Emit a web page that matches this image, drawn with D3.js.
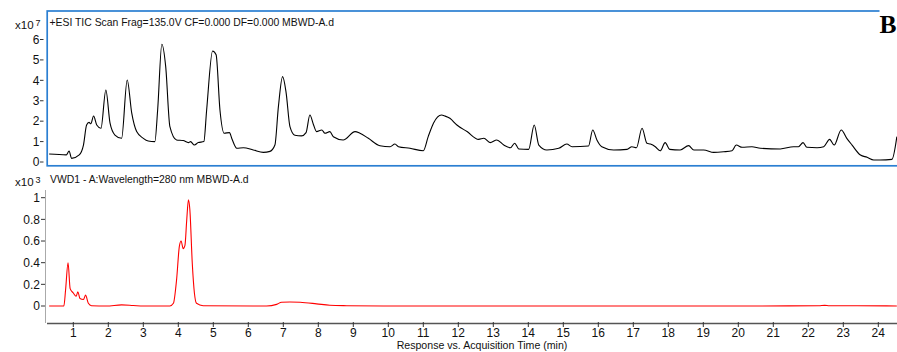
<!DOCTYPE html>
<html><head><meta charset="utf-8">
<script src="https://cdn.jsdelivr.net/npm/d3@7"></script>
<style>
body{margin:0;background:#fff;}
svg{display:block;font-family:Arial,"Liberation Sans",sans-serif;}
</style></head>
<body>
<svg id="chart" width="897" height="352"></svg>
<script>
// ---- Data ----
const xTicks = [1,2,3,4,5,6,7,8,9,10,11,12,13,14,15,16,17,18,19,20,21,22,23,24];
const ticTicks = [0,1,2,3,4,5,6];
const uvTicks = [0,0.2,0.4,0.6,0.8,1];
const ticTitle = "+ESI TIC Scan Frag=135.0V CF=0.000 DF=0.000 MBWD-A.d";
const uvTitle = "VWD1 - A:Wavelength=280 nm MBWD-A.d";
const xTitle = "Response vs. Acquisition Time (min)";
const panelLabel = "B";

// TIC (x10^7) : time (min), value
const ticTime = [0.31,0.8,0.88,0.95,1.17,1.29,1.38,1.45,1.5,1.58,1.67,1.79,1.93,2.05,2.19,2.38,2.54,2.67,2.81,3.0,3.14,3.33,3.41,3.53,3.64,3.76,3.95,4.14,4.29,4.35,4.46,4.57,4.73,4.81,4.98,5.08,5.19,5.31,5.46,5.54,5.67,5.86,6.14,6.43,6.62,6.76,6.86,6.98,7.08,7.19,7.33,7.52,7.65,7.76,7.86,7.95,8.1,8.19,8.33,8.43,8.71,9.05,9.19,9.43,9.76,10.05,10.19,10.29,10.62,11.0,11.14,11.29,11.52,11.62,11.76,11.96,12.25,12.58,12.73,12.91,13.1,13.3,13.49,13.61,13.73,14.01,14.17,14.3,14.53,14.87,15.1,15.25,15.72,15.84,15.96,16.1,16.44,16.82,16.96,17.09,17.25,17.39,17.49,17.63,17.77,17.91,18.04,18.34,18.58,18.73,19.01,19.3,19.58,19.82,19.94,20.11,20.39,20.63,21.2,21.58,21.72,21.85,21.96,22.25,22.44,22.61,22.74,22.94,23.1,23.25,23.49,23.68,23.87,24.05,24.39,24.53];
const ticValue = [0.39,0.35,0.54,0.18,0.35,0.83,1.81,1.94,1.87,2.25,1.81,1.65,3.53,1.9,1.32,1.16,4.02,2.39,1.49,1.16,1.03,1.0,2.55,5.77,4.67,1.73,1.08,1.05,0.95,1.0,0.83,0.95,1.0,2.55,5.44,5.25,2.55,1.41,1.44,1.1,0.67,0.7,0.59,0.47,0.52,0.83,2.71,4.18,3.4,1.73,1.31,1.28,1.44,2.3,1.84,1.49,1.57,1.41,1.49,1.24,1.08,1.49,1.41,1.16,0.8,0.75,0.88,0.75,0.67,0.55,1.24,1.9,2.3,2.25,2.14,1.81,1.49,1.11,1.16,0.95,1.08,0.83,0.7,0.92,0.64,0.62,1.81,0.83,0.59,0.67,0.88,0.75,0.78,1.57,1.08,0.75,0.59,0.62,0.75,0.7,1.65,0.92,0.88,0.75,0.55,0.95,0.62,0.59,0.8,0.59,0.59,0.47,0.5,0.55,0.83,0.72,0.75,0.67,0.64,0.75,0.75,0.95,0.72,0.7,0.75,1.11,0.83,1.57,1.16,0.83,0.34,0.23,0.1,0.1,0.13,1.24];

// UV 280 nm (x10^3)
const uvTime = [0.31,0.73,0.78,0.85,0.91,1.0,1.08,1.13,1.19,1.29,1.35,1.43,1.52,1.95,2.38,2.71,3.0,3.76,3.86,3.95,4.03,4.08,4.14,4.19,4.24,4.29,4.33,4.4,4.46,4.52,4.71,6.14,6.52,6.81,6.95,7.19,7.48,7.95,8.33,8.81,9.86,15.0,20.0,22.3,22.47,22.6,23.4,24.53];
const uvValue = [0,0,0.15,0.40,0.16,0.12,0.09,0.13,0.07,0.06,0.10,0.025,0.003,0,0.01,0.005,0,0,0.025,0.24,0.55,0.60,0.53,0.56,0.79,0.98,0.89,0.39,0.12,0.025,0.003,0,0,0.015,0.035,0.037,0.034,0.02,0.007,0.003,0,0,0,0.002,0.006,0.002,0.003,0];

// ---- Layout ----
const svg = d3.select("#chart");
const x = d3.scaleLinear().domain([0, 24]).range([38.3, 878.3]);
const yTic = d3.scaleLinear().domain([0, 6]).range([162, 39.5]);
const yUv = d3.scaleLinear().domain([0, 1]).range([306, 197.7]);
const fontTick = 12;

// Top panel box (blue frame)
svg.append("defs").append("clipPath").attr("id","clipTop")
  .append("rect").attr("x",47).attr("y",11).attr("width",860).attr("height",155);

const ticLine = d3.line().x((d,i)=>x(ticTime[i])).y(d=>yTic(d)).curve(d3.curveMonotoneX);
svg.append("path").datum(ticValue).attr("d", ticLine)
  .attr("fill","none").attr("stroke","#000").attr("stroke-width",1.1)
  .attr("clip-path","url(#clipTop)");

svg.append("rect").attr("x",47.2).attr("y",11).attr("width",870).attr("height",154.8)
  .attr("fill","none").attr("stroke","#2b7fd2").attr("stroke-width",1.7);

// Top y axis ticks & labels
const gTop = svg.append("g");
gTop.selectAll("line").data(ticTicks).join("line")
  .attr("x1",40).attr("x2",43.5).attr("y1",d=>yTic(d)).attr("y2",d=>yTic(d))
  .attr("stroke","#333").attr("stroke-width",1);
gTop.selectAll("text").data(ticTicks).join("text")
  .attr("x",39.5).attr("y",d=>yTic(d)).attr("dy","0.36em")
  .attr("text-anchor","end").attr("font-size",fontTick).attr("fill","#111")
  .text(d=>d);

// x10 7 multiplier
const m1 = svg.append("text").attr("x",15).attr("y",29).attr("font-size",11.5).attr("fill","#111");
m1.append("tspan").text("x10");
m1.append("tspan").attr("dx",2).attr("dy",-3).attr("font-size",9).text("7");
svg.append("text").attr("x",49.5).attr("y",25.5).attr("font-size",10.4).attr("fill","#111").text(ticTitle);

// Panel label B with white background
svg.append("rect").attr("x",879.5).attr("y",8).attr("width",18).attr("height",28).attr("fill","#fff");
svg.append("text").attr("x",879.5).attr("y",33).attr("font-family","'Liberation Serif','Times New Roman',serif")
  .attr("font-weight","bold").attr("font-size",25.5).attr("fill","#000").text(panelLabel);

// Bottom panel
const m2 = svg.append("text").attr("x",15).attr("y",186).attr("font-size",11.5).attr("fill","#111");
m2.append("tspan").text("x10");
m2.append("tspan").attr("dx",2).attr("dy",-3).attr("font-size",9).text("3");
svg.append("text").attr("x",50).attr("y",182.5).attr("font-size",10.4).attr("fill","#111").text(uvTitle);

// left axis line
svg.append("line").attr("x1",45.5).attr("x2",45.5).attr("y1",190).attr("y2",323)
  .attr("stroke","#aaa").attr("stroke-width",1);

const gBot = svg.append("g");
gBot.selectAll("line").data(uvTicks).join("line")
  .attr("x1",41).attr("x2",45).attr("y1",d=>yUv(d)).attr("y2",d=>yUv(d))
  .attr("stroke","#333").attr("stroke-width",1);
gBot.selectAll("text").data(uvTicks).join("text")
  .attr("x",40).attr("y",d=>yUv(d)).attr("dy","0.36em")
  .attr("text-anchor","end").attr("font-size",fontTick).attr("fill","#111")
  .text(d=>d);

const uvLine = d3.line().x((d,i)=>x(uvTime[i])).y(d=>yUv(d)).curve(d3.curveMonotoneX);
svg.append("path").datum(uvValue).attr("d", uvLine)
  .attr("fill","none").attr("stroke","#ff0000").attr("stroke-width",1.1);

// X axis
svg.append("line").attr("x1",47).attr("x2",897).attr("y1",323.5).attr("y2",323.5)
  .attr("stroke","#555").attr("stroke-width",1.5);
const gX = svg.append("g");
gX.selectAll("line").data(xTicks).join("line")
  .attr("x1",d=>x(d)).attr("x2",d=>x(d)).attr("y1",322).attr("y2",327)
  .attr("stroke","#333").attr("stroke-width",1);
gX.selectAll("text").data(xTicks).join("text")
  .attr("x",d=>x(d)).attr("y",336.5).attr("text-anchor","middle")
  .attr("font-size",fontTick).attr("fill","#111").text(d=>d);
svg.append("text").attr("x",482).attr("y",349).attr("text-anchor","middle")
  .attr("font-size",10.6).attr("fill","#111").text(xTitle);
</script>
</body></html>
